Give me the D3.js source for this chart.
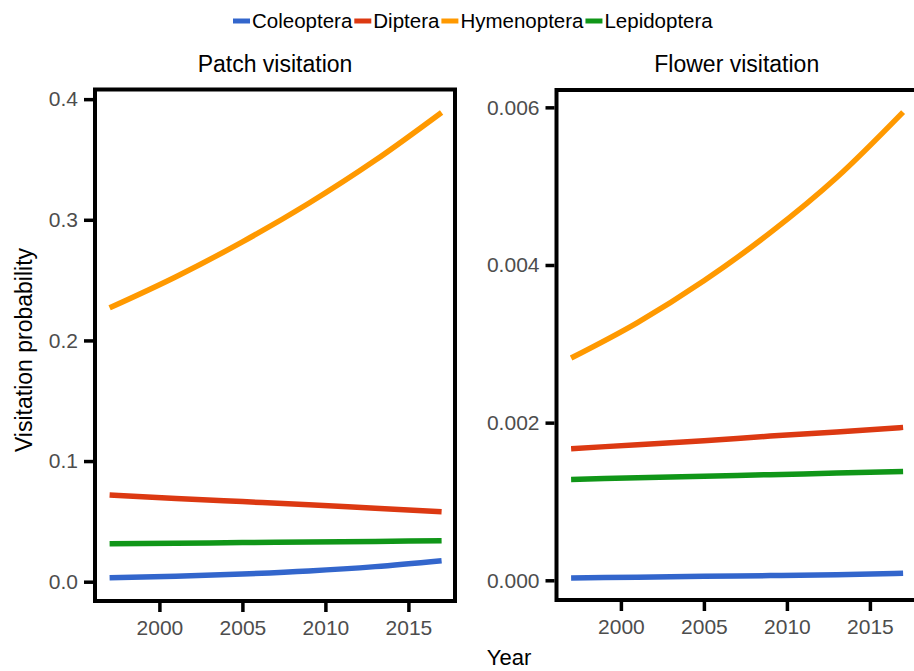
<!DOCTYPE html>
<html>
<head>
<meta charset="utf-8">
<script src="https://cdn.jsdelivr.net/npm/d3@7"></script>
<style>
  body { margin: 0; background: #fff; }
  svg { display: block; font-family: "Liberation Sans", Arial, sans-serif; }
</style>
</head>
<body>
<svg id="chart"></svg>
<script>
const years = [1997, 2001, 2005, 2009, 2013, 2017];
const taxa = ["Coleoptera", "Diptera", "Hymenoptera", "Lepidoptera"];

// patch visitation probability
const patchColeoptera = [0.0033, 0.0046, 0.0064, 0.0089, 0.0125, 0.0174];
const patchDiptera = [0.0719, 0.0690, 0.0664, 0.0638, 0.0608, 0.0579];
const patchHymenoptera = [0.227, 0.2528, 0.2817, 0.3137, 0.3493, 0.389];
const patchLepidoptera = [0.0314, 0.0319, 0.0324, 0.0329, 0.0334, 0.0339];

// flower visitation probability
const flowerColeoptera = [0.00003, 0.00004, 0.00005, 0.00006, 0.00007, 0.00009];
const flowerDiptera = [0.00167, 0.00172, 0.00177, 0.00183, 0.00188, 0.00194];
const flowerHymenoptera = [0.00282, 0.00327, 0.00380, 0.00441, 0.00511, 0.00594];
const flowerLepidoptera = [0.00128, 0.00130, 0.00132, 0.00134, 0.00136, 0.00138];

const xTicks = [2000, 2005, 2010, 2015];
const patchTicks = [0, 0.1, 0.2, 0.3, 0.4];
const flowerTicks = [0, 0.002, 0.004, 0.006];

const COLORS = {
    colors: {
        "Coleoptera": "#3366cc",
        "Diptera": "#dc3912",
        "Hymenoptera": "#ff9900",
        "Lepidoptera": "#109618"
    },
    get(label) {
        const color = this.colors[label];
        return color == undefined ? '#808080' : color;
    }
};

const width = 914, height = 671;
const svg = d3.select("#chart")
    .attr("width", width)
    .attr("height", height);

const panels = [
    {
        title: "Patch visitation",
        series: [patchColeoptera, patchDiptera, patchHymenoptera, patchLepidoptera],
        ticks: patchTicks,
        fmt: d3.format(".1f"),
        yDomain: [-0.016, 0.408],
        left: 95, right: 455, top: 89.5, bottom: 601
    },
    {
        title: "Flower visitation",
        series: [flowerColeoptera, flowerDiptera, flowerHymenoptera, flowerLepidoptera],
        ticks: flowerTicks,
        fmt: d3.format(".3f"),
        yDomain: [-0.00025, 0.00622],
        left: 556.5, right: 917, top: 90, bottom: 600
    }
];

panels.forEach(p => {
    const g = svg.append("g");

    const x = d3.scaleLinear()
        .domain([1996, 2018])
        .range([p.left - 2, p.left - 2 + 22 * 16.6]);
    const y = d3.scaleLinear()
        .domain(p.yDomain)
        .range([p.bottom, p.top]);

    // lines
    const line = d3.line()
        .x((d, i) => x(years[i]))
        .y(d => y(d))
        .curve(d3.curveMonotoneX);
    g.selectAll(".series")
        .data(p.series)
        .join("path")
        .attr("class", "series")
        .attr("d", line)
        .attr("fill", "none")
        .attr("stroke", (_d, i) => COLORS.get(taxa[i]))
        .attr("stroke-width", 5.5)
        .attr("stroke-linecap", "butt");

    // panel border
    g.append("rect")
        .attr("x", p.left)
        .attr("y", p.top)
        .attr("width", p.right - p.left)
        .attr("height", p.bottom - p.top)
        .attr("fill", "none")
        .attr("stroke", "#000")
        .attr("stroke-width", 4);

    // Y axis
    const yAxis = g.append("g")
        .attr("transform", `translate(${p.left - 2}, 0)`)
        .call(d3.axisLeft(y).tickValues(p.ticks).tickFormat(p.fmt).tickSize(9).tickPadding(6));
    yAxis.select(".domain").remove();
    yAxis.selectAll(".tick line").attr("stroke", "#000").attr("stroke-width", 3.5);
    yAxis.selectAll(".tick text")
        .attr("fill", "#4d4d4d")
        .style("font-size", "21px")
        .style("font-family", "Liberation Sans, Arial, sans-serif");

    // X axis
    const xAxis = g.append("g")
        .attr("transform", `translate(0, ${p.bottom + 2})`)
        .call(d3.axisBottom(x).tickValues(xTicks).tickFormat(d3.format("d")).tickSize(9).tickPadding(8));
    xAxis.select(".domain").remove();
    xAxis.selectAll(".tick line").attr("stroke", "#000").attr("stroke-width", 3.5);
    xAxis.selectAll(".tick text")
        .attr("fill", "#4d4d4d")
        .style("font-size", "21px")
        .style("font-family", "Liberation Sans, Arial, sans-serif");

    // strip title
    g.append("text")
        .attr("x", (p.left + p.right) / 2)
        .attr("y", 72)
        .attr("text-anchor", "middle")
        .style("font-size", "23px")
        .attr("fill", "#000")
        .text(p.title);
});

// axis titles
svg.append("text")
    .attr("transform", "translate(32, 350) rotate(-90)")
    .attr("text-anchor", "middle")
    .style("font-size", "23px")
    .text("Visitation probability");

svg.append("text")
    .attr("x", 509)
    .attr("y", 665)
    .attr("text-anchor", "middle")
    .style("font-size", "22px")
    .text("Year");

// legend
const legend = svg.append("g").attr("transform", "translate(233, 0)");
let lx = 0;
taxa.forEach(t => {
    legend.append("line")
        .attr("x1", lx).attr("x2", lx + 17)
        .attr("y1", 21).attr("y2", 21)
        .attr("stroke", COLORS.get(t))
        .attr("stroke-width", 5);
    const txt = legend.append("text")
        .attr("x", lx + 19)
        .attr("y", 28)
        .style("font-size", "20.5px")
        .text(t);
    lx += 19 + txt.node().getComputedTextLength() + 2;
});
</script>
</body>
</html>
